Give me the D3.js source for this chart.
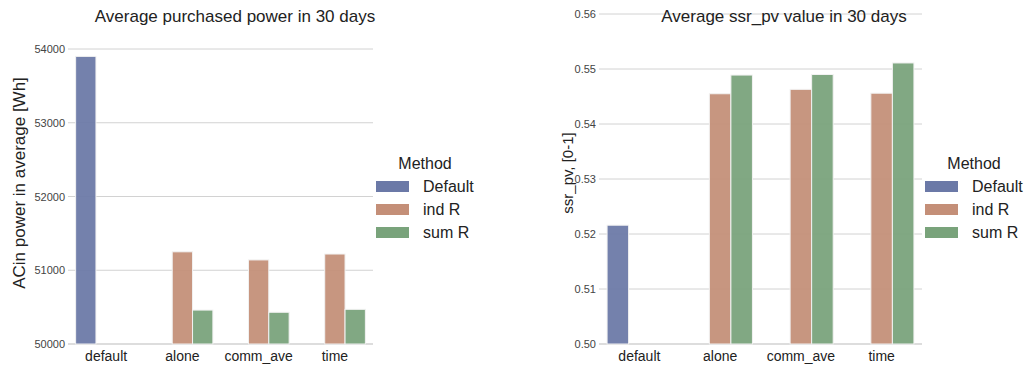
<!DOCTYPE html>
<html>
<head>
<meta charset="utf-8">
<script src="https://cdn.jsdelivr.net/npm/d3@7"></script>
<style>
  body { margin: 0; background: #fff; }
  text { font-family: "Liberation Sans", Arial, sans-serif; }
</style>
</head>
<body>
<script>
var Width = 1026;
var Height = 368;

// data
var categories = ["default", "alone", "comm_ave", "time"];
var methods = ["Default", "ind R", "sum R"];
var methodColors = ["#6b79a7", "#c48f78", "#79a37b"];

var powerDefault = [53900, null, null, null];
var powerIndR = [null, 51250, 51140, 51220];
var powerSumR = [null, 50460, 50430, 50470];
var powerTicks = [50000, 51000, 52000, 53000, 54000];

var ssrDefault = [0.5216, null, null, null];
var ssrIndR = [null, 0.5455, 0.5463, 0.5456];
var ssrSumR = [null, 0.5489, 0.5490, 0.5511];
var ssrTicks = [0.50, 0.51, 0.52, 0.53, 0.54, 0.55, 0.56];

var svg = d3.select("body").append("svg")
	.attr("width", Width)
	.attr("height", Height);

function drawPanel(opt) {
	var g = svg.append("g");

	var x = d3.scaleBand()
		.domain(categories)
		.range([opt.left, opt.right]);

	var hue = d3.scaleBand()
		.domain(methods)
		.range([x.bandwidth() * 0.1, x.bandwidth() * 0.9]);

	var y = d3.scaleLinear()
		.domain(opt.yDomain)
		.range(opt.yRange);

	// grid lines
	g.append("g")
		.selectAll("line")
		.data(opt.ticks)
		.enter()
		.append("line")
		.attr("x1", opt.left)
		.attr("x2", opt.right)
		.attr("y1", function (d) { return y(d); })
		.attr("y2", function (d) { return y(d); })
		.attr("stroke", "#d2d2d2")
		.attr("stroke-width", function (d, i) { return i == 0 ? 1.5 : 1; });

	// y tick labels
	var yAxis = d3.axisLeft(y)
		.tickValues(opt.ticks)
		.tickSize(0)
		.tickPadding(3)
		.tickFormat(opt.format);
	var ya = g.append("g")
		.attr("transform", "translate(" + opt.left + ",0)")
		.call(yAxis);
	ya.select(".domain").remove();
	ya.selectAll("text")
		.attr("font-size", "11px")
		.attr("font-family", "Liberation Sans, Arial, sans-serif")
		.attr("fill", "#444");

	// x tick labels
	var xAxis = d3.axisBottom(x).tickSize(0).tickPadding(7);
	var xa = g.append("g")
		.attr("transform", "translate(0," + opt.yRange[0] + ")")
		.call(xAxis);
	xa.select(".domain").remove();
	xa.selectAll("text")
		.attr("font-size", "14px")
		.attr("font-family", "Liberation Sans, Arial, sans-serif")
		.attr("fill", "#222");

	// bars
	opt.series.forEach(function (values, si) {
		var rows = [];
		values.forEach(function (v, ci) {
			if (v != null) rows.push({ cat: categories[ci], value: v });
		});
		g.append("g")
			.selectAll("rect")
			.data(rows)
			.enter()
			.append("rect")
			.attr("x", function (d) { return x(d.cat) + hue(methods[si]); })
			.attr("width", hue.bandwidth())
			.attr("y", function (d) { return y(d.value); })
			.attr("height", function (d) { return y(opt.yDomain[0]) - y(d.value); })
			.attr("fill", methodColors[si])
			.attr("fill-opacity", 0.94)
			.attr("stroke", "#f2f2f2")
			.attr("stroke-width", 1);
	});

	// title
	g.append("text")
		.attr("x", opt.titleX)
		.attr("y", 22)
		.attr("text-anchor", "middle")
		.attr("font-size", "17px")
		.attr("fill", "#222")
		.text(opt.title);

	// y label
	g.append("text")
		.attr("transform", "translate(" + opt.labelX + "," + opt.labelY + ") rotate(-90)")
		.attr("text-anchor", "middle")
		.attr("font-size", opt.labelSize)
		.attr("fill", "#222")
		.text(opt.yLabel);

	// legend
	var lg = g.append("g");
	lg.append("text")
		.attr("x", opt.legendX + 49)
		.attr("y", 169)
		.attr("text-anchor", "middle")
		.attr("font-size", "16px")
		.attr("fill", "#222")
		.text("Method");
	methods.forEach(function (m, i) {
		lg.append("rect")
			.attr("x", opt.legendX)
			.attr("y", 181 + i * 23)
			.attr("width", 33)
			.attr("height", 11)
			.attr("fill", methodColors[i]);
		lg.append("text")
			.attr("x", opt.legendX + 47)
			.attr("y", 192 + i * 23)
			.attr("font-size", "16px")
			.attr("fill", "#222")
			.text(m);
	});
}

drawPanel({
	left: 68, right: 373,
	yDomain: [50000, 54000], yRange: [344, 49],
	ticks: powerTicks,
	format: d3.format("d"),
	series: [powerDefault, powerIndR, powerSumR],
	title: "Average purchased power in 30 days",
	titleX: 235,
	yLabel: "ACin power in average [Wh]",
	labelX: 25, labelY: 183, labelSize: "17px",
	legendX: 376
});

drawPanel({
	left: 599, right: 922,
	yDomain: [0.50, 0.56], yRange: [344, 14],
	ticks: ssrTicks,
	format: d3.format(".2f"),
	series: [ssrDefault, ssrIndR, ssrSumR],
	title: "Average ssr_pv value in 30 days",
	titleX: 784,
	yLabel: "ssr_pv, [0-1]",
	labelX: 573, labelY: 173, labelSize: "15px",
	legendX: 925
});
</script>
</body>
</html>
